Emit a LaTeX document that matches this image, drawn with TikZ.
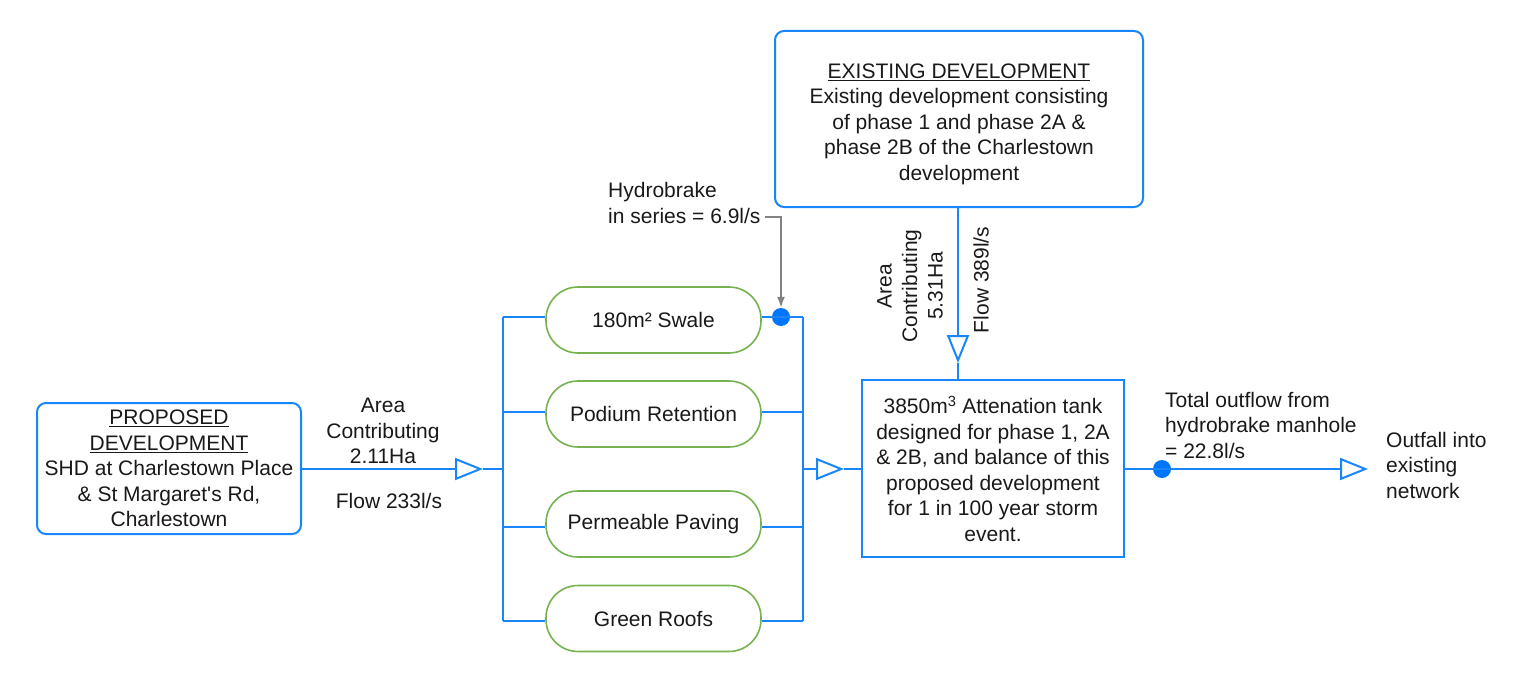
\documentclass[tikz,border=0pt]{standalone}
\usepackage{fontspec}
\setmainfont{Liberation Sans}[Ligatures=TeXOff]
\usetikzlibrary{arrows.meta}
\definecolor{flowblue}{RGB}{24,134,250}
\definecolor{dotblue}{RGB}{0,118,255}
\definecolor{suds}{RGB}{118,178,80}
\definecolor{leader}{RGB}{130,130,130}
\definecolor{ink}{RGB}{25,25,25}

\begin{document}
\begin{tikzpicture}[x=1pt,y=-1pt,
  every node/.style={font=\fontsize{21}{25.5}\selectfont, text=ink},
  devbox/.style={draw=flowblue, line width=2pt, rounded corners=9pt, align=center, inner sep=0},
  tankbox/.style={draw=flowblue, line width=2pt, align=center, inner sep=0},
  pill/.style={draw=suds, line width=1.6pt, rounded corners=32pt, minimum width=215pt, minimum height=66pt, inner sep=0},
  pipe/.style={draw=flowblue, line width=2pt},
  pipearrow/.style={pipe, -{Triangle[open, length=28pt, width=22pt]}},
  lbl/.style={align=center, inner sep=0},
  lbll/.style={align=left, inner sep=0, anchor=west},
  junction/.style={circle, fill=dotblue, inner sep=0, minimum size=18pt},
  hbleader/.style={draw=leader, line width=1.8pt, -{Latex[length=11pt,width=8pt]}}
]
\useasboundingbox (0,0) rectangle (1526,674);

% development and tank boxes
\node[devbox, minimum width=264pt, minimum height=131pt] (prop) at (169,468.5)
  {\underline{PROPOSED}\\\underline{DEVELOPMENT}\\SHD at Charlestown Place\\\& St Margaret's Rd,\\Charlestown};
\node[devbox, minimum width=368pt, minimum height=176pt] (exist) at (959,119) {};
\node[lbl] (existtxt) at (959,124)
  {\underline{EXISTING DEVELOPMENT}\\Existing development consisting\\of phase 1 and phase 2A \&\\phase 2B of the Charlestown\\development};
\node[tankbox, minimum width=262pt, minimum height=177pt] (tank) at (993,468.5)
  {3850m\textsuperscript{3} Attenation tank\\designed for phase 1, 2A\\\& 2B, and balance of this\\proposed development\\for 1 in 100 year storm\\event.};

% SuDS elements
\node[pill] (swale) at (653.5,320) {180m² Swale};
\node[pill] (podium) at (653.5,414) {Podium Retention};
\node[pill] (paving) at (653.5,524) {Permeable Paving};
\node[pill] (roofs) at (653.5,618.5) {Green Roofs};

% bus tap points
\coordinate (lbTop) at (503,317);
\coordinate (lbPod) at (503,412);
\coordinate (lbPav) at (503,527);
\coordinate (lbBot) at (503,621);
\coordinate (rbTop) at (803,317);
\coordinate (rbPod) at (803,412);
\coordinate (rbPav) at (803,527);
\coordinate (rbBot) at (803,621);
\coordinate (lbIn) at (503,469);
\coordinate (rbOut) at (803,469);
\coordinate (tipA) at (483,469);
\coordinate (tipB) at (844,469);
\coordinate (tipC) at (958,363);
\coordinate (tipD) at (1368,469);

% junction dots
\node[junction] (hbdot) at (781,317) {};
\node[junction] (outdot) at (1162,469) {};

% pipes
\draw[pipe] (lbTop) -- (lbBot);
\draw[pipe] (rbTop) -- (rbBot);
\draw[pipe] (lbTop) -- (swale.west |- lbTop);
\draw[pipe] (lbPod) -- (podium.west |- lbPod);
\draw[pipe] (lbPav) -- (paving.west |- lbPav);
\draw[pipe] (lbBot) -- (roofs.west |- lbBot);
\draw[pipe] (swale.east |- rbTop) -- (rbTop);
\draw[pipe] (podium.east |- rbPod) -- (rbPod);
\draw[pipe] (paving.east |- rbPav) -- (rbPav);
\draw[pipe] (roofs.east |- rbBot) -- (rbBot);

\draw[pipearrow] (prop.east |- tipA) -- (tipA);
\draw[pipe] (tipA) -- (lbIn);
\draw[pipearrow] (rbOut) -- (tipB);
\draw[pipe] (tipB) -- (tipB -| tank.west);
\draw[pipearrow] (exist.south -| tipC) -- (tipC);
\draw[pipe] (tipC) -- (tipC |- tank.north);
\draw[pipearrow] (tank.east |- tipD) -- (tipD);

% flow labels
\node[lbl] (areaA) at (383,431) {Area\\Contributing\\2.11Ha};
\node[lbl] (flowA) at (389,501) {Flow 233l/s};
\node[lbl, rotate=90] (areaB) at (910,286) {Area\\Contributing\\5.31Ha};
\node[lbl, rotate=90] (flowB) at (981,280) {Flow 389l/s};
\node[lbll] (outflow) at (1165,425) {Total outflow from\\hydrobrake manhole\\= 22.8l/s};
\node[lbll] (outfall) at (1386,465) {Outfall into\\existing\\network};

% hydrobrake leader
\node[lbll] (hb) at (608,203) {Hydrobrake\\in series = 6.9l/s};
\coordinate (hbtap) at (765,217);
\draw[hbleader] (hbtap) -- (hbtap -| hbdot) -- (hbdot.north);
\end{tikzpicture}
\end{document}
